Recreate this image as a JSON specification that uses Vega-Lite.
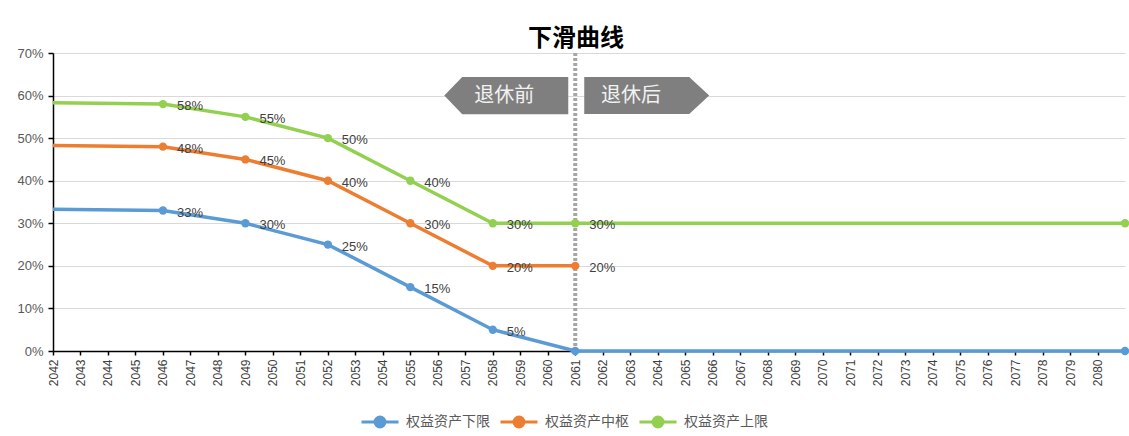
{
  "$schema": "https://vega.github.io/schema/vega-lite/v6.json",
  "width": 1072,
  "height": 298,
  "autosize": "none",
  "padding": {"left": 53, "top": 53, "right": 4, "bottom": 85},
  "background": "white",
  "title": {
    "text": "下滑曲线",
    "anchor": "middle",
    "frame": "group",
    "offset": -4,
    "dx": -13,
    "font": "Noto Sans CJK SC",
    "fontSize": 24,
    "fontWeight": "bold",
    "color": "#000000"
  },
  "config": {
    "view": {"stroke": null},
    "font": "Liberation Sans"
  },
  "datasets": {
    "series": [
      {"year": 2042, "series": "权益资产下限", "value": 0.333},
      {"year": 2046, "series": "权益资产下限", "value": 0.33},
      {"year": 2049, "series": "权益资产下限", "value": 0.30},
      {"year": 2052, "series": "权益资产下限", "value": 0.25},
      {"year": 2055, "series": "权益资产下限", "value": 0.15},
      {"year": 2058, "series": "权益资产下限", "value": 0.05},
      {"year": 2061, "series": "权益资产下限", "value": 0.0},
      {"year": 2081, "series": "权益资产下限", "value": 0.0},
      {"year": 2042, "series": "权益资产中枢", "value": 0.483},
      {"year": 2046, "series": "权益资产中枢", "value": 0.48},
      {"year": 2049, "series": "权益资产中枢", "value": 0.45},
      {"year": 2052, "series": "权益资产中枢", "value": 0.40},
      {"year": 2055, "series": "权益资产中枢", "value": 0.30},
      {"year": 2058, "series": "权益资产中枢", "value": 0.20},
      {"year": 2061, "series": "权益资产中枢", "value": 0.20},
      {"year": 2042, "series": "权益资产上限", "value": 0.583},
      {"year": 2046, "series": "权益资产上限", "value": 0.58},
      {"year": 2049, "series": "权益资产上限", "value": 0.55},
      {"year": 2052, "series": "权益资产上限", "value": 0.50},
      {"year": 2055, "series": "权益资产上限", "value": 0.40},
      {"year": 2058, "series": "权益资产上限", "value": 0.30},
      {"year": 2061, "series": "权益资产上限", "value": 0.30},
      {"year": 2081, "series": "权益资产上限", "value": 0.30}
    ]
  },
  "encoding": {
    "x": {"field": "year", "type": "quantitative", "scale": {"domain": [2042, 2081], "nice": false, "zero": false},
      "axis": {
        "values": [2042,2043,2044,2045,2046,2047,2048,2049,2050,2051,2052,2053,2054,2055,2056,2057,2058,2059,2060,2061,2062,2063,2064,2065,2066,2067,2068,2069,2070,2071,2072,2073,2074,2075,2076,2077,2078,2079,2080],
        "format": "d",
        "title": null,
        "grid": false,
        "labelAngle": 270,
        "labelAlign": "right",
        "labelBaseline": "middle",
        "labelFontSize": 12,
        "labelColor": "#404040",
        "labelPadding": 4,
        "labelOverlap": false,
        "labelFlush": false,
        "labelBound": false,
        "domainColor": "#000000",
        "domainWidth": 1.5,
        "tickColor": "#000000",
        "tickSize": 4,
        "tickWidth": 1.5
      }},
    "y": {"field": "value", "type": "quantitative", "scale": {"domain": [0, 0.7], "nice": false},
      "axis": {
        "values": [0, 0.1, 0.2, 0.3, 0.4, 0.5, 0.6, 0.7],
        "format": ".0%",
        "title": null,
        "grid": true,
        "gridColor": "#d9d9d9",
        "gridWidth": 1,
        "labelFontSize": 13,
        "labelColor": "#595959",
        "labelPadding": 5,
        "domainColor": "#000000",
        "domainWidth": 1.5,
        "tickColor": "#000000",
        "tickSize": 5,
        "tickWidth": 1.5
      }}
  },
  "layer": [
    {
      "data": {"values": [{"year": 2061, "value": 0.7, "value2": 0}]},
      "mark": {"type": "rule", "color": "#a6a6a6", "strokeWidth": 4, "strokeDash": [3, 2]},
      "encoding": {
        "y2": {"field": "value2"}
      }
    },
    {
      "data": {"name": "series"},
      "mark": {"type": "line", "strokeWidth": 3.5},
      "encoding": {
        "color": {
          "field": "series",
          "type": "nominal",
          "scale": {"domain": ["权益资产下限", "权益资产中枢", "权益资产上限"], "range": ["#5b9bd5", "#ed7d31", "#92d050"]},
          "legend": {
            "title": null,
            "orient": "none",
            "direction": "horizontal",
            "legendX": 307,
            "legendY": 349,
            "symbolType": "M -1 0 L 1 0 M 0.27 0 A 0.27 0.27 0 1 1 -0.27 0 A 0.27 0.27 0 1 1 0.27 0 Z",
            "symbolSize": 1369,
            "symbolStrokeWidth": 3,
            "symbolOpacity": 1,
            "labelFontSize": 14,
            "labelColor": "#595959",
            "labelFont": "Noto Sans CJK SC",
            "columnPadding": 4,
            "labelOffset": 6
          }
        }
      }
    },
    {
      "data": {"name": "series"},
      "transform": [{"filter": "datum.year > 2042"}],
      "mark": {"type": "point", "filled": true, "size": 70, "opacity": 1},
      "encoding": {
        "color": {"field": "series", "type": "nominal"}
      }
    },
    {
      "data": {"name": "series"},
      "transform": [
        {"filter": "datum.year > 2042 && datum.year < 2081 && !(datum.series == '权益资产下限' && datum.year == 2061)"}
      ],
      "mark": {"type": "text", "align": "left", "baseline": "middle", "dx": 14, "dy": 2, "fontSize": 13, "color": "#404040"},
      "encoding": {
        "text": {"field": "value", "type": "quantitative", "format": ".0%"}
      }
    },
    {
      "data": {"values": [{"year": 2058.49, "value": 0.6}]},
      "mark": {"type": "point", "filled": true, "color": "#7f7f7f", "opacity": 1, "size": 15376,
        "shape": "M -1 0 L -0.71 -0.3 L 1 -0.3 L 1 0.3 L -0.71 0.3 Z"}
    },
    {
      "data": {"values": [{"year": 2063.6, "value": 0.6}]},
      "mark": {"type": "point", "filled": true, "color": "#7f7f7f", "opacity": 1, "size": 15625,
        "shape": "M -1 -0.296 L 0.68 -0.296 L 1 0 L 0.68 0.296 L -1 0.296 Z"}
    },
    {
      "data": {"values": [{"year": 2058.42, "value": 0.6, "label": "退休前"}, {"year": 2063.03, "value": 0.6, "label": "退休后"}]},
      "mark": {"type": "text", "align": "center", "baseline": "middle", "fontSize": 20, "color": "#f2f2f2", "font": "Noto Sans CJK SC"},
      "encoding": {
        "text": {"field": "label"}
      }
    }
  ]
}
